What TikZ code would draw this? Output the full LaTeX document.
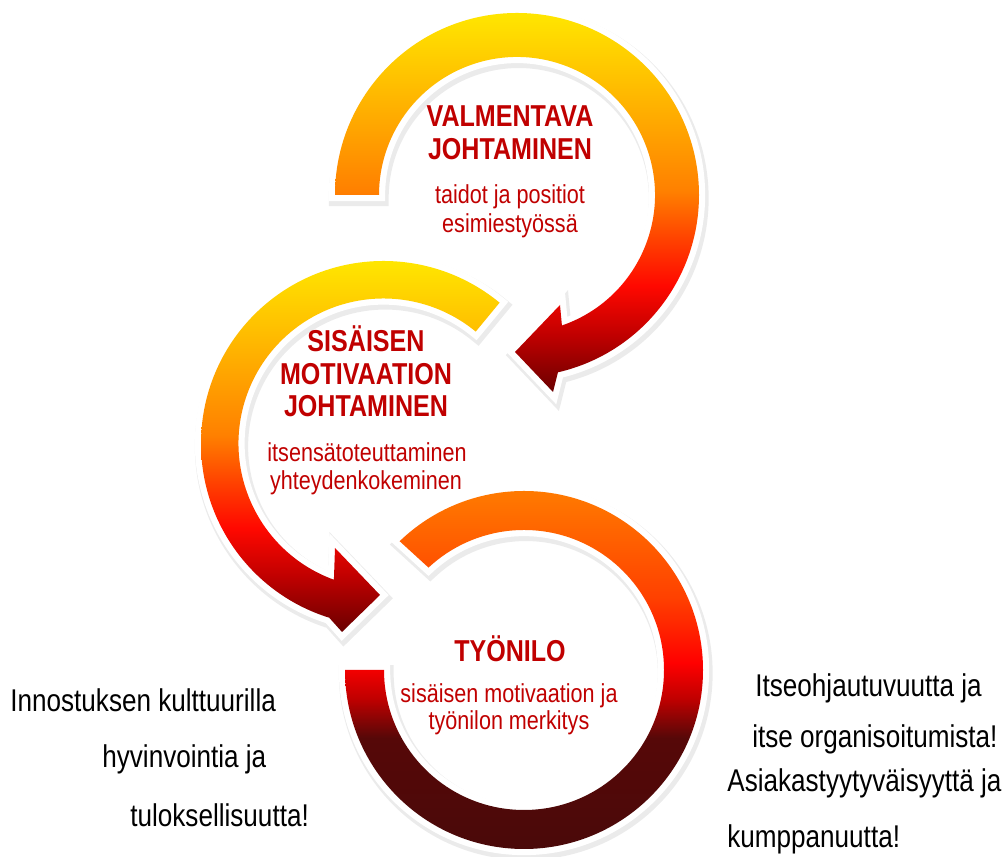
\documentclass[tikz,border=0pt]{standalone}
\usepackage{fontspec}
\setmainfont{Liberation Sans}[FakeStretch=0.83]
\definecolor{headred}{HTML}{C00000}
\definecolor{wyellow}{HTML}{FFE600}
\definecolor{wgold}{HTML}{FFC000}
\definecolor{worange}{HTML}{FF8000}
\definecolor{worange2}{HTML}{FF4000}
\definecolor{wred}{HTML}{FF0800}
\definecolor{wred2}{HTML}{C00000}
\definecolor{wdark}{HTML}{6A0000}
\definecolor{horange}{HTML}{FF7A00}
\definecolor{horange2}{HTML}{FF4000}
\definecolor{hred}{HTML}{FF0000}
\definecolor{hred2}{HTML}{C00000}
\definecolor{hdark}{HTML}{560808}
\definecolor{hdark2}{HTML}{4A0909}
\pgfdeclareverticalshading{warm}{100bp}{color(0bp)=(wdark); color(25bp)=(wdark); color(32.5bp)=(wred2); color(39bp)=(wred); color(45bp)=(worange2); color(51.5bp)=(worange); color(66bp)=(wgold); color(75bp)=(wyellow); color(100bp)=(wyellow)}
\pgfdeclareverticalshading{hot}{100bp}{color(0bp)=(hdark2); color(25bp)=(hdark2); color(40.5bp)=(hdark); color(46bp)=(hred2); color(51bp)=(hred); color(60bp)=(horange2); color(75bp)=(horange); color(100bp)=(horange)}
\begin{document}
\begin{tikzpicture}[x=0.02cm, y=0.02cm,
    band/.style={line join=round,
        preaction={fill=black!8, draw=black!8, line width=9pt, transform canvas={shift={(1pt,-1.8pt)}}},
        preaction={fill=white, draw=white, line width=7pt}},
    warm arrow/.style={band, shading=warm},
    hot arrow/.style={band, shading=hot},
    head/.style={text=headred, inner sep=0, anchor=base, font=\bfseries\fontsize{17.2}{20}\selectfont},
    sub/.style={text=headred, inner sep=0, anchor=base, font=\fontsize{14.8}{17}\selectfont},
    note/.style={text=black, inner sep=0, anchor=base west, font=\fontsize{17.9}{21}\selectfont}]
    \useasboundingbox (0,0) rectangle (1008,857);
    % top arrow
    \begin{scope}[shift={(517,662)}]
        \shade[warm arrow] (180:182) arc[start angle=180, end angle=-77, radius=182] -- (36,-197) -- (-2,-157) -- (43,-110) -- (-71:138) arc[start angle=-71, end angle=180, radius=138] -- cycle;
    \end{scope}
    % middle arrow
    \begin{scope}[shift={(383.5,413.5)}]
        \shade[warm arrow] (50.5:182.5) arc[start angle=50.5, end angle=90, radius=182.5] arc[start angle=90, end angle=252.7, radius=182.5] -- (-41.5,-188.5) -- (-3.5,-151.5) -- (-48.5,-104.5) -- (250:145) arc[start angle=250, end angle=50.5, radius=145] -- cycle;
    \end{scope}
    % bottom ring
    \begin{scope}[shift={(524,187)}]
        \shade[hot arrow] (134:179) arc[start angle=134, end angle=90, radius=179] arc[start angle=90, end angle=-180, radius=179] -- (180:140) arc[start angle=-180, end angle=133, radius=140] -- cycle;
    \end{scope}
    % texts in the rings
    \node[head] (valm) at (510,730) {VALMENTAVA};
    \node[head] (johto) at (510,697) {JOHTAMINEN};
    \node[sub] (taidot) at (510,653) {taidot ja positiot};
    \node[sub] (esim) at (510,624) {esimiestyössä};
    \node[head] (sisa) at (366,505) {SISÄISEN};
    \node[head] (moti) at (366,472) {MOTIVAATION};
    \node[head] (johto2) at (366,440) {JOHTAMINEN};
    \node[sub] (itsen) at (367,395) {itsensätoteuttaminen};
    \node[sub] (yhteys) at (366,367) {yhteydenkokeminen};
    \node[head] (tyonilo) at (510,195) {TYÖNILO};
    \node[sub] (merk1) at (509,154) {sisäisen motivaation ja};
    \node[sub] (merk2) at (509,127) {työnilon merkitys};
    % side notes
    \node[note] (inno1) at (10,145) {Innostuksen kulttuurilla};
    \node[note] (inno2) at (102,89) {hyvinvointia ja};
    \node[note] (inno3) at (130,30) {tuloksellisuutta!};
    \node[note] (itse1) at (755,160) {Itseohjautuvuutta ja};
    \node[note] (itse2) at (752,109) {itse organisoitumista!};
    \node[note] (asia1) at (727,65) {Asiakastyytyväisyyttä ja};
    \node[note] (asia2) at (727,9) {kumppanuutta!};
\end{tikzpicture}
\end{document}
